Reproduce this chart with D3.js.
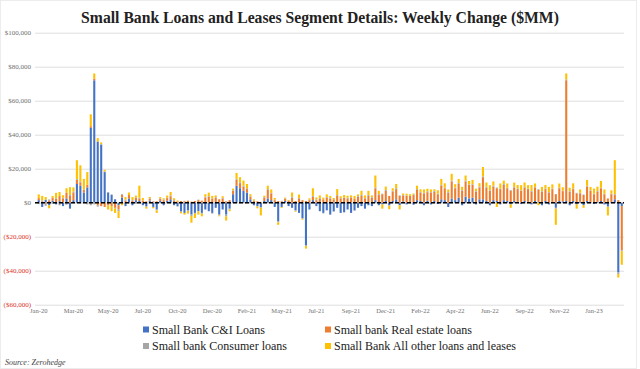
<!DOCTYPE html>
<html>
<head>
<meta charset="utf-8">
<script src="https://cdn.jsdelivr.net/npm/d3@7"></script>
<style>
  body { margin: 0; background: #fff; }
  svg text { font-family: "Liberation Serif", "DejaVu Serif", serif; }
</style>
</head>
<body>
<svg id="chart" width="640" height="369"></svg>
<script>
// weekly change, $MM
const ciLoans = [
  1500, -2500, 1800, -1500, 1200, -1000, 900, -2000, 2500, -3500,
  1500, 11000, 10000, 6000, 9000, 44000, 72000, 36000, 34000, 18000,
  6000, 4500, 2000, -1500, 3000, -2000, 2500, -1500, 1500, 1000,
  -1500, -2000, 1200, -2500, -4000, 1000, -1500, 1200, 2000, -1500,
  -2000, -5000, -6000, -4500, -7000, -6000, -5000, -6000, -4000, -5000,
  -6000, -3000, -7000, -4000, -7000, -3500, 5000, 10000, 8500, 7000,
  6000, 2000, -1500, -2000, -2500, 1000, 2500, 1500, -2500, -11000,
  -2500, 1000, -2000, -3000, -4500, -6000, -9000, -25000, -4000, 1500,
  -2000, -5000, -6000, -4500, -7000, -5000, -3000, -6000, -5500, -4000,
  -6000, -4500, -3000, -2000, -3500, -1500, -2000, 1500, -1500, -1000,
  1000, -1500, 1000, 2000, -1500, 800, -1000, 500, -1200, 1500,
  1000, -1500, 1200, -1000, 1000, -800, 2000, 1500, -2500, 2500,
  1500, 3000, -1500, 3500, 2500, 3000, -1000, 2000, 2000, 1000,
  -1500, 1500, 1000, -1000, 1500, 1000, -1000, 1000, 500, -800,
  1000, 500, -1000, 1000, 500, -1500, 1000, -1000, 500, -3000,
  1000, 800, 1000, -1500, 1000, -1000, 500, -1500, 1000, 500,
  -800, 500, 1000, -1000, -2000, 500, 2000, -41000, -2000
];
const realEstate = [
  1200, 800, -600, 1400, 1800, 2200, 3000, 2600, 3500, 4000,
  4500, 2500, 2000, 1500, 1500, 1000, 1000, -1500, -2000, -2500,
  -1500, -2000, -3000, -2500, 1500, 1200, 2000, 1000, 1500, 1500,
  1000, 800, 1000, 600, 800, 1200, 1500, 1500, 1800, 1200,
  800, 1000, 800, 1200, 600, 1000, 1500, 1200, 3000, 3500,
  2500, 3000, 2000, 2500, 800, 1500, 2000, 3500, 3000, 2500,
  2000, 1500, 1000, 800, 500, 2000, 5000, 4000, 1500, 1000,
  800, 1200, 1000, 3000, 1000, 2500, 1500, 1000, 1500, 2000,
  1500, 2500, 2000, 3000, 2500, 2000, 4000, 2500, 3000, 2500,
  3000, 2500, 3500, 4000, 2500, 4000, 3000, 7000, 4500, 5000,
  6000, 4000, 5500, 6000, 4000, 3500, 4000, 3500, 4500, 6000,
  5000, 5500, 5000, 6000, 5500, 5000, 8000, 7000, 6000, 10000,
  7000, 8000, 7000, 9000, 8000, 7500, 6500, 7000, 13000, 8000,
  7000, 8000, 7500, 8000, 9000, 7500, 7000, 8000, 7500, 7000,
  8000, 7500, 6500, 8000, 7000, 6500, 7000, 6000, 7500, 5000,
  7500, 6000, 71000, 6500, 7000, 5500, 5000, 4500, 8500, 6500,
  5000, 6000, 7500, 5000, 2500, 4500, 2500, 1500, -26000
];
const consumer = [
  -800, 600, -1200, 500, -700, 400, -1500, 300, -1200, 600,
  500, 500, 500, 300, -1000, -1500, -1000, -800, 500, 400,
  300, 400, -500, -1000, 500, 600, -400, 500, -600, 500,
  300, -500, 400, 300, -500, 300, 400, 300, 500, 400,
  -300, -500, 300, -400, -800, -500, 300, -500, 500, 400,
  -400, 300, -500, 300, -1000, -500, 300, 500, 500, 500,
  500, 300, 300, -300, -500, 300, 500, 300, 300, -500,
  300, 300, 200, 500, -300, 300, -500, -500, 300, 500,
  400, 300, -300, 400, 300, -400, 500, 300, -300, 400,
  300, -300, 400, 500, 300, 500, 300, 500, 500, 300,
  500, -300, 500, 500, 300, 300, 300, -300, 400, 500,
  400, 300, 500, 300, 400, 300, 500, 400, 300, 500,
  400, 500, 400, 500, 300, 400, 300, 500, 500, 400,
  300, 500, 400, 300, 500, 300, 400, 300, 400, 300,
  400, 300, 400, 300, 400, 300, 400, 300, 300, -500,
  300, 300, 500, 300, 400, 300, 300, 300, 400, 300,
  300, 400, 300, 300, -500, 300, 500, -1000, -500
];
const otherLoans = [
  2200, 2600, 1500, -1800, 1000, 3200, 2400, 1500, 2500, 4500,
  2500, 11000, 9500, 6200, 7500, 7000, 3000, 2000, 1000, 1000,
  -2500, -3000, -2500, -4000, -1500, 1500, 1500, 1800, 1200, 7000,
  1500, -1000, 800, -800, -1500, 800, 700, 1200, 2000, 1000,
  500, -800, -1000, -1500, -4000, -2500, -2000, -1500, 1500, 2000,
  1500, 1000, -500, 1000, -2500, -1000, 1000, 3500, 3000, 3000,
  2500, 1200, 700, -1000, -4500, 800, 2000, 2000, 1000, -1500,
  -500, 500, 400, 2500, -500, 2000, -500, -1500, 800, 4500,
  1200, 1500, 1000, 1500, 1200, 800, 3500, 1000, 1500, 1200,
  1000, 1500, 1000, 2500, 1500, 2500, 1000, 7000, 2000, -2500,
  2000, -2000, 1500, 2500, -2500, 800, 1000, 1000, 500, 2000,
  1500, 2000, 1500, 1500, 1000, 2000, 3500, 2500, 1500, 4000,
  2000, 2500, 2000, 3000, 2000, 2500, 1500, 2000, 5500, 2500,
  3000, 2500, -2500, 3000, 2000, 2500, -2000, 2500, 2000, 3000,
  2500, 2000, 3500, 2000, -1500, 2500, 2000, 3000, 2500, -9500,
  2500, 2000, 3500, 2000, 3000, -2500, 2000, -1500, 3500, 2000,
  3000, 2500, 4000, 2500, -5000, 2000, 20000, -2000, -8000
];

const seriesKeys = ["ci", "re", "cons", "oth"];
const seriesNames = ["Small Bank C&I Loans", "Small bank Real estate loans",
                     "Small bank Consumer loans", "Small Bank All other loans and leases"];
const seriesColors = ["#4472C4", "#ED7D31", "#A5A5A5", "#FFC000"];
const yTicks = [-60000, -40000, -20000, 0, 20000, 40000, 60000, 80000, 100000];

// one category per weekly report (Wednesdays), x labels every 10 weeks
const weeks = d3.timeWednesday.range(new Date(2020, 0, 1), new Date(2023, 2, 23));
const labelEvery = 10;

const rows = weeks.map((d, i) => ({
  date: d, ci: ciLoans[i], re: realEstate[i], cons: consumer[i], oth: otherLoans[i]
}));

const svg = d3.select("#chart");

svg.append("rect")
  .attr("x", 0.5).attr("y", 0.5).attr("width", 636).attr("height", 368)
  .attr("fill", "none").attr("stroke", "#ececec");

const x = d3.scaleBand()
  .domain(d3.range(rows.length))
  .range([37, 623.5])
  .paddingInner(0.4)
  .paddingOuter(0.2);

const y = d3.scaleLinear()
  .domain([-60000, 100000])
  .range([304.7, 32.7]);

// y axis + gridlines
const yAxis = svg.append("g")
  .attr("transform", "translate(35,0)")
  .call(d3.axisLeft(y).tickValues(yTicks).tickSize(-589).tickPadding(4)
    .tickFormat(v => v < 0 ? "(" + d3.format("$,")(-v) + ")" : d3.format("$,")(v)));
yAxis.select(".domain").remove();
yAxis.selectAll("line").attr("stroke", "#dedede");
yAxis.selectAll("text")
  .attr("font-size", 7)
  .attr("fill", d => d < 0 ? "#d9342b" : "#707070");

// bars
const stacked = d3.stack().keys(seriesKeys).offset(d3.stackOffsetDiverging)(rows);

svg.append("g").selectAll("g")
  .data(stacked)
  .join("g")
    .attr("fill", (d, i) => seriesColors[i])
  .selectAll("rect")
  .data(d => d.map((v, i) => [v[0], v[1], i]))
  .join("rect")
    .attr("x", d => x(d[2]))
    .attr("width", x.bandwidth())
    .attr("y", d => y(Math.max(d[0], d[1])))
    .attr("height", d => Math.abs(y(d[0]) - y(d[1])));

// zero line
svg.append("line")
  .attr("x1", 35).attr("x2", 624)
  .attr("y1", y(0)).attr("y2", y(0))
  .attr("stroke", "#000").attr("stroke-width", 1.6)
  .attr("stroke-dasharray", "4,2");

// x axis labels
const xAxis = svg.append("g")
  .attr("transform", "translate(0,305)")
  .call(d3.axisBottom(x)
    .tickValues(d3.range(0, rows.length, labelEvery))
    .tickSize(0).tickPadding(3)
    .tickFormat(i => d3.timeFormat("%b-%y")(weeks[i])));
xAxis.select(".domain").remove();
xAxis.selectAll("text").attr("font-size", 6.5).attr("fill", "#707070");

// title
svg.append("text")
  .attr("x", 320).attr("y", 23)
  .attr("text-anchor", "middle")
  .attr("font-size", 15.7).attr("font-weight", "bold")
  .attr("fill", "#222")
  .text("Small Bank Loans and Leases Segment Details: Weekly Change ($MM)");

// legend
const legend = svg.append("g").selectAll("g")
  .data(seriesNames)
  .join("g")
    .attr("transform", (d, i) => `translate(${i % 2 ? 325 : 143},${i < 2 ? 329.5 : 346})`);
legend.append("rect")
  .attr("x", 0).attr("y", -3).attr("width", 6).attr("height", 6)
  .attr("fill", (d, i) => seriesColors[i]);
legend.append("text")
  .attr("x", 9).attr("y", 4)
  .attr("font-size", 12).attr("fill", "#222")
  .text(d => d);

// source
svg.append("text")
  .attr("x", 5).attr("y", 365)
  .attr("font-size", 8).attr("font-style", "italic").attr("fill", "#444")
  .text("Source: Zerohedge");
</script>
</body>
</html>
